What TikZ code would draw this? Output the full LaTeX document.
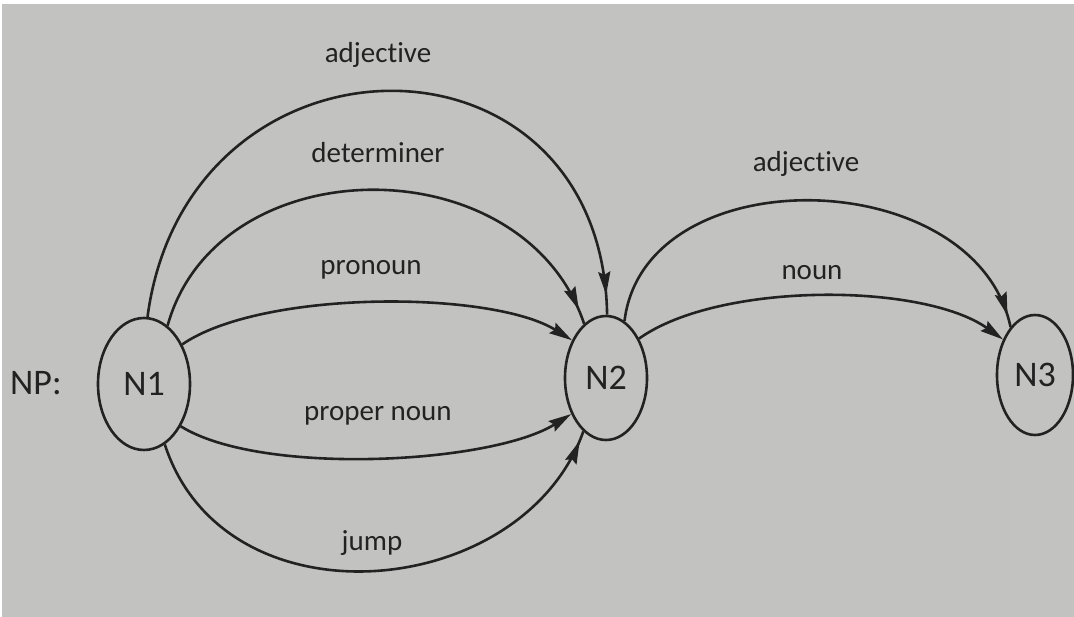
\documentclass[tikz,border=0pt]{standalone}
\usepackage{fontspec}
\setmainfont{Carlito}[Ligatures=NoCommon]
\usetikzlibrary{shapes.geometric,arrows.meta,decorations.markings}
\definecolor{paper}{RGB}{194,195,193}
\definecolor{ink}{RGB}{34,34,34}
\begin{document}
\begin{tikzpicture}[x=1pt,y=-1pt,
  state/.style={ellipse,draw=ink,line width=2.6pt,inner sep=0pt,text=ink,font=\fontsize{36}{36}\selectfont},
  arc/.style={draw=ink,line width=2.6pt},
  lbl/.style={anchor=base,text=ink,font=\fontsize{29}{30}\selectfont,inner sep=0pt},
  tipat/.style={postaction={decorate},decoration={markings,mark=at position #1 with {\arrow{Stealth[length=23pt,width=12pt,inset=3pt]}}}},
  tipend/.style={-{Stealth[length=23pt,width=12pt,inset=3pt]}}
]
\useasboundingbox (0,0) rectangle (1074,617);
\fill[white] (0,0) rectangle (1074,617);
\fill[paper] (2,4) rectangle (1074,617);

\node[state,minimum width=92pt,minimum height=132pt] (n1) at (144,384) {N1};
\node[state,minimum width=82pt,minimum height=124pt] (n2) at (606,378) {N2};
\node[state,minimum width=76pt,minimum height=120pt] (n3) at (1035,375) {N3};

\draw[arc,tipat=-20pt] (n1.87) .. controls +(40,-300) and +(-5,-300) .. (n2.89);
\draw[arc,tipat=-15pt] (n1.68) .. controls +(50,-180) and +(-60,-180) .. (n2.112);
\draw[arc,tipend] (n1.46) .. controls +(80,-55) and +(-80,-50) .. (n2.132);
\draw[arc,tipend] (n1.-49) .. controls +(80,50) and +(-80,50) .. (n2.226);
\draw[arc,tipat=-10pt] (n1.-71) .. controls +(60,185) and +(-60,170) .. (n2.247);
\draw[arc,tipat=-12pt] (n2.72) .. controls +(20,-165) and +(-35,-165) .. (n3.117);
\draw[arc,tipend] (n2.50) .. controls +(80,-57) and +(-80,-57) .. (n3.132);

\node[lbl] (l1) at (378,63) {adjective};
\node[lbl] (l2) at (378,163) {determiner};
\node[lbl] (l3) at (371,275) {pronoun};
\node[lbl] (l4) at (378,421) {proper noun};
\node[lbl] (l5) at (372,550) {jump};
\node[lbl] (l6) at (806,172) {adjective};
\node[lbl] (l7) at (812,280) {noun};
\node[lbl,anchor=base west,font=\fontsize{36}{36}\selectfont] (np) at (10,395) {NP:};
\end{tikzpicture}
\end{document}
